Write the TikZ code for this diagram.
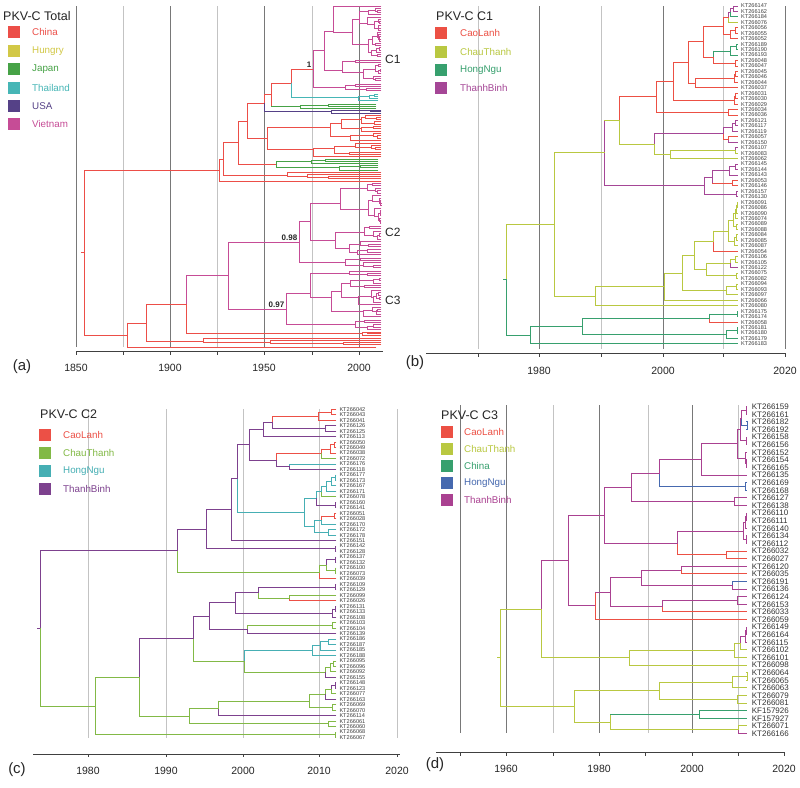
\documentclass[tikz,border=0pt]{standalone}
\usepackage{fontspec}
\setmainfont{Liberation Sans}
\definecolor{aR}{RGB}{236,78,72}
\definecolor{aY}{RGB}{210,200,70}
\definecolor{aG}{RGB}{70,162,70}
\definecolor{aC}{RGB}{70,182,182}
\definecolor{aU}{RGB}{85,65,135}
\definecolor{aV}{RGB}{198,76,150}
\definecolor{bR}{RGB}{236,80,68}
\definecolor{bY}{RGB}{185,200,65}
\definecolor{bG}{RGB}{55,160,110}
\definecolor{bP}{RGB}{165,70,150}
\definecolor{cR}{RGB}{236,80,70}
\definecolor{cG}{RGB}{130,185,70}
\definecolor{cC}{RGB}{70,175,180}
\definecolor{cP}{RGB}{125,65,142}
\definecolor{dR}{RGB}{236,80,68}
\definecolor{dY}{RGB}{185,200,65}
\definecolor{dT}{RGB}{55,160,110}
\definecolor{dB}{RGB}{70,105,175}
\definecolor{dP}{RGB}{170,65,145}
\definecolor{gD}{RGB}{120,120,120}
\definecolor{gL}{RGB}{195,195,195}
\tikzset{
 tr/.style={line width=0.85pt, line cap=rect},
 gd/.style={line width=0.9pt, gD},
 gl/.style={line width=0.9pt, gL},
 axisline/.style={line width=0.9pt, black!75},
 leaflab/.style={anchor=west, inner sep=0pt, font=\fontsize{5.6}{6}\selectfont, text=black!75},
 ttl/.style={anchor=west, inner sep=0pt, font=\fontsize{12.5}{14}\selectfont, text=black!85},
 lgt/.style={anchor=west, inner sep=0pt, font=\fontsize{9.8}{11}\selectfont},
 sq/.style={minimum size=12pt, inner sep=0pt, draw=none},
 axl/.style={inner sep=0pt, font=\fontsize{10.5}{12}\selectfont, text=black!85},
 pl/.style={inner sep=0pt, font=\fontsize{15}{17}\selectfont, text=black!85},
 suplab/.style={anchor=south east, inner sep=0.5pt, font=\bfseries\fontsize{8}{9}\selectfont, text=black!85},
 cladelab/.style={anchor=west, inner sep=0pt, font=\fontsize{12}{14}\selectfont, text=black!85}
}
% leaf: name, index, label
\newcommand\LF[3]{%
 \pgfmathsetmacro\tmpy{\Ybase+(#2-1)*\Ystep}%
 \coordinate (#1) at (\Xtip,\tmpy);%
 \expandafter\xdef\csname ty@#1\endcsname{\tmpy}%
 \node[leaflab] (#1lab) at (\Xlab,\tmpy) {#3};}
% internal node: name, x, child1, child2, v1, h1, v2, h2
\newcommand\NDg[8]{%
 \pgfmathsetmacro\tmpy{(\csname ty@#3\endcsname+\csname ty@#4\endcsname)/2}%
 \coordinate (#1) at (#2,\tmpy);%
 \expandafter\xdef\csname ty@#1\endcsname{\tmpy}%
 \draw[tr,#5] (#1) -- (#1 |- #3);%
 \draw[tr,#6] (#1 |- #3) -- (#3);%
 \draw[tr,#7] (#1) -- (#1 |- #4);%
 \draw[tr,#8] (#1 |- #4) -- (#4);}
\newcommand\ND[5]{\NDg{#1}{#2}{#3}{#4}{#5}{#5}{#5}{#5}}
% random subtree
\newcommand\rsub[4]{%
 \begingroup
 \edef\rX{#1}\edef\rA{#2}\edef\rN{#3}%
 \ifnum\rN=2 \def\rk{1}\else\pgfmathtruncatemacro\rk{random(1,\rN-1)}\fi
 \pgfmathtruncatemacro\rkk{\rN-\rk}%
 \pgfmathsetmacro\ryA{\rA+(\rk-1)*\Rgap/2}%
 \pgfmathsetmacro\rB{\rA+\rk*\Rgap}%
 \pgfmathsetmacro\ryB{\rB+(\rkk-1)*\Rgap/2}%
 \pgfmathsetmacro\rxA{\rX+(\Rend-\rX)*(0.2+0.6*rnd)}%
 \pgfmathsetmacro\rxB{\rX+(\Rend-\rX)*(0.2+0.6*rnd)}%
 \draw[tr,#4] (\rxA,\ryA) -| (\rX,\ryB) -- (\rxB,\ryB);%
 \ifnum\rk=1 \draw[tr,#4] (\rxA,\ryA) -- (\Rend,\ryA);\else\rsub{\rxA}{\rA}{\rk}{#4}\fi
 \ifnum\rkk=1 \draw[tr,#4] (\rxB,\ryB) -- (\Rend,\ryB);\else\rsub{\rxB}{\rB}{\rkk}{#4}\fi
 \endgroup}
% random clade: name, x, ytop, n, gap, color, xend
\newcommand\RC[7]{%
 \def\Rgap{#5}\def\Rend{#7}%
 \pgfmathsetmacro\tmpy{#3+(#4-1)*#5/2}%
 \coordinate (#1) at (#2,\tmpy);%
 \expandafter\xdef\csname ty@#1\endcsname{\tmpy}%
 \ifnum#4=1 \draw[tr,#6] (#1) -- (#7,\tmpy);\else\rsub{#2}{#3}{#4}{#6}\fi}
\begin{document}
\begin{tikzpicture}[x=1pt,y=-1pt]
\pgfmathsetseed{11}
\useasboundingbox (0,0) rectangle (800,787);
\fill[white] (0,0) rectangle (800,787);

%%%%%%%%%%%%%%%% PANEL A %%%%%%%%%%%%%%%%
\foreach \gx/\gs in {76/gd,123/gl,170/gd,217/gl,264/gd,312/gl,359/gd}{\draw[\gs] (\gx,6) -- (\gx,347);}
\draw[axisline] (76,351) -- (383,351);
\foreach \gx in {76,123,170,217,264,312,359}{\draw[axisline] (\gx,351) -- (\gx,355);}
\node[axl] (ax1850) at (76,368) {1850};
\node[axl] (ax1900) at (170,368) {1900};
\node[axl] (ax1950) at (264,368) {1950};
\node[axl] (ax2000) at (359,368) {2000};
\node[pl] (plA) at (22,367) {(a)};
\node[ttl] (ttlA) at (3,16) {PKV-C Total};
\foreach \i/\c/\t in {1/aR/China,2/aY/Hungry,3/aG/Japan,4/aC/Thailand,5/aU/USA,6/aV/Vietnam}{
 \node[sq,fill=\c] (aLg\i) at (13.5,{32.3+(\i-1)*18.4}) {};
 \node[lgt,text=\c] (aLt\i) at (32,{32.3+(\i-1)*18.4}) {\t};}

\RC{aCa1}{333}{6}{24}{2.2}{aV}{381}
\RC{aCa2}{342}{60}{10}{2.3}{aV}{381}
\ND{aCa}{324}{aCa1}{aCa2}{aV}
\RC{aCb}{345}{84}{4}{2.3}{aV}{381}
\ND{aC1}{313}{aCa}{aCb}{aV}
\RC{aTh}{358}{94}{4}{2.3}{aC}{378}
\NDg{aP2}{291}{aC1}{aTh}{aR}{aR}{aC}{aC}
\RC{aJp}{300}{104}{3}{2.2}{aG}{376}
\NDg{aP1}{271}{aP2}{aJp}{aR}{aR}{aR}{aG}
\RC{aUS}{331}{110}{3}{1.8}{aU}{381}
\NDg{aP0}{264}{aP1}{aUS}{aR}{aR}{aU}{aU}
\RC{aQa}{330}{115}{12}{2.3}{aR}{381}
\RC{aQb}{313}{143}{7}{2.3}{aR}{381}
\ND{aQ}{267}{aQa}{aQb}{aR}
\ND{aPm1}{247}{aP0}{aQ}{aR}
\RC{aRx}{276}{159}{6}{2.2}{aG}{378}
\ND{aPm2}{238}{aPm1}{aRx}{aR}
\RC{aS}{287}{172}{4}{2.2}{aR}{381}
\ND{aPm3}{223}{aPm2}{aS}{aR}
\RC{aT}{300}{181.5}{1}{2}{aR}{381}
\ND{aPm4}{219}{aPm3}{aT}{aR}

\RC{aCca}{340}{183}{17}{2.5}{aV}{381}
\RC{aCcb}{335}{226}{12}{2.6}{aV}{381}
\ND{aC2a}{310}{aCca}{aCcb}{aV}
\RC{aC2b}{345}{258}{5}{2.4}{aV}{381}
\ND{aC2}{299}{aC2a}{aC2b}{aV}
\RC{aC3a}{310}{271}{20}{2.4}{aV}{381}
\RC{aC3b}{355}{320}{5}{2.4}{aV}{381}
\ND{aC3}{286}{aC3a}{aC3b}{aV}
\ND{aL3}{228}{aC2}{aC3}{aV}
\RC{aLc}{362}{332}{3}{1.5}{aR}{381}
\NDg{aL2}{186}{aL3}{aLc}{aV}{aV}{aR}{aR}
\RC{aLb}{203}{338}{4}{2.2}{aR}{381}
\ND{aL1}{146}{aL2}{aLb}{aR}
\RC{aLr}{300}{347}{1}{2}{aR}{376}
\ND{aL0}{127}{aL1}{aLr}{aR}
\ND{aroot}{84}{aPm4}{aL0}{aR}
\draw[tr,aR] (aroot) -- ++(-2.5,0);
\node[suplab] (sA1) at ([xshift=-1pt,yshift=1pt]aC1) {1};
\node[suplab] (sA2) at ([xshift=-1pt,yshift=1pt]aC2) {0.98};
\node[suplab] (sA3) at ([xshift=-1pt,yshift=1pt]aC3) {0.97};
\node[cladelab] (cl1) at (385,59) {C1};
\node[cladelab] (cl2) at (385,232) {C2};
\node[cladelab] (cl3) at (385,300) {C3};

%%%%%%%%%%%%%%%% PANEL B %%%%%%%%%%%%%%%%
\foreach \gx/\gs in {478/gl,539/gd,601/gl,663/gd,723/gl,785/gd}{\draw[\gs] (\gx,6) -- (\gx,349);}
\draw[axisline] (426,353) -- (785,353);
\foreach \gx in {478,539,601,663,723,785}{\draw[axisline] (\gx,353) -- (\gx,357);}
\node[axl] (bx1980) at (539,371) {1980};
\node[axl] (bx2000) at (663,371) {2000};
\node[axl] (bx2020) at (785,371) {2020};
\node[pl] (plB) at (415,363) {(b)};
\node[ttl] (ttlB) at (436,16) {PKV-C C1};
\foreach \i/\c/\t in {1/bR/CaoLanh,2/bY/ChauThanh,3/bG/HongNgu,4/bP/ThanhBinh}{
 \node[sq,fill=\c] (bLg\i) at (441,{33.3+(\i-1)*18.3}) {};
 \node[lgt,text=\c] (bLt\i) at (460,{33.3+(\i-1)*18.3}) {\t};}
\def\Ybase{6}\def\Ystep{5.45}\def\Xtip{737.3}\def\Xlab{741}
\foreach \i/\t in {1/147,2/162,3/184,4/076,5/056,6/055,7/052,8/189,9/190,10/193,11/048,12/047,13/045,14/046,15/044,16/037,17/031,18/030,19/029,20/034,21/036,22/121,23/117,24/119,25/057,26/150,27/107,28/083,29/062,30/145,31/144,32/143,33/053,34/146,35/157,36/130,37/091,38/086,39/090,40/074,41/089,42/088,43/084,44/085,45/087,46/054,47/106,48/105,49/122,50/075,51/082,52/094,53/093,54/097,55/066,56/080,57/175,58/174,59/058,60/181,61/180,62/179,63/183}{\LF{b\i}{\i}{KT266\t}}
\ND{bn12}{733.3}{b1}{b2}{bP}
\NDg{bn123}{730}{bn12}{b3}{bP}{bP}{bG}{bG}
\NDg{bn1234}{728.3}{bn123}{b4}{bP}{bP}{bY}{bY}
\ND{bn56}{735}{b5}{b6}{bR}
\ND{bn567}{730}{bn56}{b7}{bR}
\ND{bn1t7}{723.3}{bn1234}{bn567}{bR}
\ND{bn89}{736}{b8}{b9}{bG}
\ND{bn8t10}{730}{bn89}{b10}{bG}
\ND{bn1112}{735}{b11}{b12}{bR}
\NDg{bn8t12}{713.3}{bn8t10}{bn1112}{bG}{bG}{bR}{bR}
\ND{bn1t12}{703.3}{bn1t7}{bn8t12}{bR}
\ND{bn1314}{735}{b13}{b14}{bR}
\ND{bn13t15}{734.3}{bn1314}{b15}{bR}
\ND{bn13t16}{695}{bn13t15}{b16}{bR}
\ND{bn1t16}{688.3}{bn1t12}{bn13t16}{bR}
\ND{bn1718}{735}{b17}{b18}{bR}
\ND{bn17t19}{734.3}{bn1718}{b19}{bR}
\ND{bn1t19}{673.3}{bn1t16}{bn17t19}{bR}
\ND{bn2021}{728.3}{b20}{b21}{bR}
\ND{bn1t21}{656.7}{bn1t19}{bn2021}{bR}
\ND{bn2223}{735}{b22}{b23}{bP}
\ND{bn22t24}{732}{bn2223}{b24}{bP}
\NDg{bn2526}{728.3}{b25}{b26}{bR}{bR}{bP}{bP}
\NDg{bn22t26}{723.3}{bn22t24}{bn2526}{bP}{bP}{bR}{bR}
\NDg{bn2728}{735}{b27}{b28}{bP}{bP}{bY}{bY}
\ND{bn27t29}{670.7}{bn2728}{b29}{bY}
\NDg{bn22t29}{654}{bn22t26}{bn27t29}{bP}{bP}{bY}{bY}
\NDg{bn1t29}{619.3}{bn1t21}{bn22t29}{bR}{bR}{bY}{bY}
\ND{bn3031}{735}{b30}{b31}{bP}
\ND{bn30t32}{729.3}{bn3031}{b32}{bP}
\ND{bn3334}{732.7}{b33}{b34}{bR}
\NDg{bn30t34}{712.3}{bn30t32}{bn3334}{bP}{bP}{bP}{bR}
\ND{bn3536}{736}{b35}{b36}{bP}
\ND{bn30t36}{704.3}{bn30t34}{bn3536}{bP}
\NDg{bn1t36}{604.3}{bn1t29}{bn30t36}{bP}{bY}{bP}{bP}
\ND{bn3738}{737}{b37}{b38}{bY}
\ND{bn37t39}{736}{bn3738}{b39}{bY}
\ND{bn37t40}{735}{bn37t39}{b40}{bY}
\ND{bn4142}{736.5}{b41}{b42}{bY}
\ND{bn37t42}{733.3}{bn37t40}{bn4142}{bY}
\ND{bn4344}{736.5}{b43}{b44}{bY}
\ND{bn43t45}{734.5}{bn4344}{b45}{bY}
\ND{bn37t45}{728.3}{bn37t42}{bn43t45}{bY}
\NDg{bn37t46}{713.3}{bn37t45}{b46}{bY}{bY}{bR}{bR}
\ND{bn4748}{735}{b47}{b48}{bY}
\NDg{bn47t49}{730}{bn4748}{b49}{bY}{bY}{bP}{bP}
\ND{bn5051}{736}{b50}{b51}{bY}
\ND{bn47t51}{706.7}{bn47t49}{bn5051}{bY}
\ND{bn37t51}{694.3}{bn37t46}{bn47t51}{bY}
\ND{bn5253}{736}{b52}{b53}{bY}
\ND{bn52t54}{726.7}{bn5253}{b54}{bY}
\ND{bn37t54}{682.7}{bn37t51}{bn52t54}{bY}
\ND{bn37t55}{664.3}{bn37t54}{b55}{bY}
\ND{bn37t56}{595}{bn37t55}{b56}{bY}
\ND{bn1t56}{554.3}{bn1t36}{bn37t56}{bY}
\ND{bn5758}{737}{b57}{b58}{bG}
\NDg{bn57t59}{709.3}{bn5758}{b59}{bG}{bG}{bR}{bR}
\ND{bn6061}{737}{b60}{b61}{bG}
\ND{bn60t62}{726.7}{bn6061}{b62}{bG}
\ND{bn57t62}{582.3}{bn57t59}{bn60t62}{bG}
\ND{bn57t63}{530}{bn57t62}{b63}{bG}
\NDg{bnroot}{506}{bn1t56}{bn57t63}{bY}{bY}{bG}{bG}
\draw[tr,bG] (bnroot) -- ++(-2.5,0);

%%%%%%%%%%%%%%%% PANEL C %%%%%%%%%%%%%%%%
\foreach \gx in {88,166,243,319,397}{\draw[gl] (\gx,409) -- (\gx,738);}
\draw[axisline] (33,754) -- (400,754);
\foreach \gx in {88,166,243,319,397}{\draw[axisline] (\gx,754) -- (\gx,757);}
\node[axl] (cx1980) at (88,771) {1980};
\node[axl] (cx1990) at (166,771) {1990};
\node[axl] (cx2000) at (243,771) {2000};
\node[axl] (cx2010) at (319,771) {2010};
\node[axl] (cx2020) at (397,771) {2020};
\node[pl] (plC) at (17,770) {(c)};
\node[ttl] (ttlC) at (40,414) {PKV-C C2};
\foreach \i/\c/\t in {1/cR/CaoLanh,2/cG/ChauThanh,3/cC/HongNgu,4/cP/ThanhBinh}{
 \node[sq,fill=\c] (cLg\i) at (44.5,{435.3+(\i-1)*18}) {};
 \node[lgt,text=\c] (cLt\i) at (63,{435.3+(\i-1)*18}) {\t};}
\def\Ybase{409.3}\def\Ystep{5.47}\def\Xtip{336}\def\Xlab{339.3}
\foreach \i/\t in {1/042,2/043,3/041,4/126,5/125,6/113,7/050,8/049,9/038,10/072,11/176,12/118,13/177,14/173,15/167,16/171,17/078,18/160,19/141,20/051,21/028,22/170,23/172,24/178,25/151,26/142,27/128,28/137,29/132,30/100,31/073,32/039,33/109,34/129,35/099,36/026,37/131,38/133,39/108,40/103,41/104,42/139,43/186,44/187,45/185,46/188,47/095,48/096,49/092,50/155,51/148,52/123,53/077,54/163,55/069,56/070,57/114,58/061,59/060,60/068,61/067}{\LF{c\i}{\i}{KT266\t}}
\ND{cn12}{331}{c1}{c2}{cR}
\ND{cn1t3}{318.3}{cn12}{c3}{cR}
\ND{cn45}{325}{c4}{c5}{cP}
\NDg{cn1t5}{272.7}{cn1t3}{cn45}{cR}{cR}{cP}{cP}
\ND{cn1t6}{263.3}{cn1t5}{c6}{cP}
\ND{cn78}{334.3}{c7}{c8}{cR}
\ND{cn7t9}{330}{cn78}{c9}{cR}
\NDg{cn7t10}{321}{cn7t9}{c10}{cR}{cR}{cG}{cG}
\NDg{cn1112}{289.3}{c11}{c12}{cC}{cC}{cP}{cP}
\NDg{cn7t12}{276}{cn7t10}{cn1112}{cR}{cR}{cP}{cP}
\ND{cn1t12}{249.3}{cn1t6}{cn7t12}{cP}
\ND{cn1314}{335}{c13}{c14}{cC}
\ND{cn13t15}{331}{cn1314}{c15}{cC}
\ND{cn13t16}{326}{cn13t15}{c16}{cC}
\NDg{cn13t17}{321.7}{cn13t16}{c17}{cC}{cC}{cG}{cG}
\ND{cn1819}{335}{c18}{c19}{cP}
\NDg{cn13t19}{316}{cn13t17}{cn1819}{cC}{cC}{cP}{cP}
\ND{cn2021}{334.3}{c20}{c21}{cR}
\NDg{cn20t22}{321.7}{cn2021}{c22}{cR}{cR}{cC}{cC}
\ND{cn2324}{328.3}{c23}{c24}{cC}
\ND{cn20t24}{314.3}{cn20t22}{cn2324}{cC}
\ND{cn13t24}{304.3}{cn13t19}{cn20t24}{cC}
\NDg{cn1t24}{237.7}{cn1t12}{cn13t24}{cP}{cP}{cC}{cC}
\ND{cn1t25}{231}{cn1t24}{c25}{cP}
\ND{cn2627}{335}{c26}{c27}{cP}
\ND{cn1t27}{206.7}{cn1t25}{cn2627}{cP}
\ND{cn2829}{335}{c28}{c29}{cP}
\ND{cn3031}{335}{c30}{c31}{cG}
\NDg{cn28t31}{326}{cn2829}{cn3031}{cP}{cP}{cG}{cG}
\NDg{cn28t32}{319.3}{cn28t31}{c32}{cG}{cG}{cR}{cR}
\NDg{cn1t32}{177.3}{cn1t27}{cn28t32}{cP}{cP}{cG}{cG}
\ND{cn3334}{335}{c33}{c34}{cP}
\NDg{cn3536}{289.3}{c35}{c36}{cG}{cG}{cR}{cR}
\NDg{cn33t36}{258.3}{cn3334}{cn3536}{cP}{cP}{cG}{cG}
\ND{cn3738}{335}{c37}{c38}{cP}
\ND{cn37t39}{332.7}{cn3738}{c39}{cP}
\ND{cn33t39}{235.7}{cn33t36}{cn37t39}{cP}
\ND{cn4041}{332.7}{c40}{c41}{cG}
\NDg{cn40t42}{247.7}{cn4041}{c42}{cG}{cG}{cP}{cP}
\ND{cn33t42}{209.3}{cn33t39}{cn40t42}{cP}
\ND{cn4344}{328.3}{c43}{c44}{cC}
\ND{cn43t45}{320.7}{cn4344}{c45}{cC}
\ND{cn43t46}{312.7}{cn43t45}{c46}{cC}
\ND{cn4748}{333.3}{c47}{c48}{cG}
\ND{cn47t49}{330}{cn4748}{c49}{cG}
\NDg{cn47t50}{325}{cn47t49}{c50}{cG}{cG}{cP}{cP}
\NDg{cn43t50}{244.3}{cn43t46}{cn47t50}{cC}{cC}{cG}{cG}
\NDg{cn33t50}{193.3}{cn33t42}{cn43t50}{cP}{cP}{cG}{cG}
\ND{cn5152}{335}{c51}{c52}{cP}
\NDg{cn51t53}{331}{cn5152}{c53}{cP}{cP}{cG}{cG}
\NDg{cn51t54}{325}{cn51t53}{c54}{cG}{cG}{cP}{cP}
\ND{cn5556}{332.7}{c55}{c56}{cG}
\ND{cn51t56}{309.3}{cn51t54}{cn5556}{cG}
\NDg{cn51t57}{218.3}{cn51t56}{c57}{cG}{cG}{cP}{cP}
\ND{cn5859}{328.3}{c58}{c59}{cG}
\ND{cn51t59}{189.3}{cn51t57}{cn5859}{cG}
\NDg{cn33t59}{139.3}{cn33t50}{cn51t59}{cP}{cP}{cG}{cG}
\ND{cn6061}{335}{c60}{c61}{cG}
\ND{cn33t61}{95}{cn33t59}{cn6061}{cG}
\NDg{cnroot}{40}{cn1t32}{cn33t61}{cP}{cP}{cG}{cG}
\draw[tr,cP] (cnroot) -- ++(-2.5,0);

%%%%%%%%%%%%%%%% PANEL D %%%%%%%%%%%%%%%%
\foreach \gx/\gs in {460/gd,506/gd,553/gl,599/gd,648/gl,692/gd,738/gl}{\draw[\gs] (\gx,405) -- (\gx,733);}
\draw[axisline] (436,752) -- (784,752);
\foreach \gx in {460,506,553,599,645,692,738,784}{\draw[axisline] (\gx,752) -- (\gx,756);}
\node[axl] (dx1960) at (506,769) {1960};
\node[axl] (dx1980) at (599,769) {1980};
\node[axl] (dx2000) at (692,769) {2000};
\node[axl] (dx2020) at (784,769) {2020};
\node[pl] (plD) at (435,765) {(d)};
\node[ttl] (ttlD) at (441,415) {PKV-C C3};
\foreach \i/\c/\t in {1/dR/CaoLanh,2/dY/ChauThanh,3/dT/China,4/dB/HongNgu,5/dP/ThanhBinh}{
 \node[sq,fill=\c] (dLg\i) at (446.5,{431.7+(\i-1)*17.1}) {};
 \node[lgt,text=\c] (dLt\i) at (464,{431.7+(\i-1)*17.1}) {\t};}
\tikzset{leaflab/.style={anchor=west, inner sep=0pt, font=\fontsize{8}{9}\selectfont, text=black!80}}
\def\Ybase{406.7}\def\Ystep{7.6}\def\Xtip{746.7}\def\Xlab{751.7}
\foreach \i/\t in {1/KT266159,2/KT266161,3/KT266182,4/KT266192,5/KT266158,6/KT266156,7/KT266152,8/KT266154,9/KT266165,10/KT266135,11/KT266169,12/KT266168,13/KT266127,14/KT266138,15/KT266110,16/KT266111,17/KT266140,18/KT266134,19/KT266112,20/KT266032,21/KT266027,22/KT266120,23/KT266035,24/KT266191,25/KT266136,26/KT266124,27/KT266153,28/KT266033,29/KT266059,30/KT266149,31/KT266164,32/KT266115,33/KT266102,34/KT266101,35/KT266098,36/KT266064,37/KT266065,38/KT266063,39/KT266079,40/KT266081,41/KF157926,42/KF157927,43/KT266071,44/KT266166}{\LF{d\i}{\i}{\t}}
\ND{dn12}{746}{d1}{d2}{dP}
\ND{dn34}{747.7}{d3}{d4}{dB}
\NDg{dn1t4}{741.7}{dn12}{dn34}{dP}{dP}{dB}{dB}
\ND{dn56}{746}{d5}{d6}{dP}
\ND{dn1t6}{740}{dn1t4}{dn56}{dP}
\ND{dn89}{746.5}{d8}{d9}{dP}
\ND{dn7t9}{745}{d7}{dn89}{dP}
\ND{dn1t9}{737.7}{dn1t6}{dn7t9}{dP}
\ND{dn1t10}{701}{dn1t9}{d10}{dP}
\ND{dn1112}{745}{d11}{d12}{dB}
\NDg{dn1t12}{659.3}{dn1t10}{dn1112}{dP}{dP}{dB}{dB}
\ND{dn1314}{734.3}{d13}{d14}{dP}
\ND{dn1t14}{631.7}{dn1t12}{dn1314}{dP}
\ND{dn1516}{746.5}{d15}{d16}{dP}
\ND{dn15t17}{745}{dn1516}{d17}{dP}
\ND{dn1819}{746}{d18}{d19}{dP}
\ND{dn15t19}{743.3}{dn15t17}{dn1819}{dP}
\ND{dn2021}{726}{d20}{d21}{dR}
\NDg{dn15t21}{677.3}{dn15t19}{dn2021}{dP}{dP}{dR}{dR}
\ND{dn1t21}{604.3}{dn1t14}{dn15t21}{dP}
\NDg{dn2223}{681}{d22}{d23}{dP}{dP}{dR}{dR}
\NDg{dn2425}{732.7}{d24}{d25}{dB}{dB}{dP}{dP}
\ND{dn22t25}{641}{dn2223}{dn2425}{dP}
\ND{dn2627}{737.7}{d26}{d27}{dP}
\NDg{dn26t28}{662.7}{dn2627}{d28}{dP}{dP}{dR}{dR}
\ND{dn22t28}{610}{dn22t25}{dn26t28}{dP}
\NDg{dn22t29}{595}{dn22t28}{d29}{dR}{dP}{dR}{dR}
\ND{dn1t29}{568.3}{dn1t21}{dn22t29}{dP}
\ND{dn3031}{746.5}{d30}{d31}{dP}
\ND{dn30t32}{745}{dn3031}{d32}{dP}
\NDg{dn30t33}{740.7}{dn30t32}{d33}{dP}{dP}{dY}{dY}
\ND{dn30t34}{734.3}{dn30t33}{d34}{dY}
\ND{dn30t35}{629.3}{dn30t34}{d35}{dY}
\NDg{dn1t35}{541.7}{dn1t29}{dn30t35}{dP}{dP}{dY}{dY}
\ND{dn3637}{747.7}{d36}{d37}{dY}
\ND{dn36t38}{732.3}{dn3637}{d38}{dY}
\ND{dn3940}{737.7}{d39}{d40}{dY}
\ND{dn36t40}{659.3}{dn36t38}{dn3940}{dY}
\ND{dn4142}{699.3}{d41}{d42}{dT}
\NDg{dn4344}{738.3}{d43}{d44}{dY}{dY}{dP}{dP}
\NDg{dn41t44}{610}{dn4142}{dn4344}{dY}{dT}{dY}{dY}
\ND{dn36t44}{574}{dn36t40}{dn41t44}{dY}
\ND{dnroot}{500}{dn1t35}{dn36t44}{dY}
\draw[tr,dY] (dnroot) -- ++(-2.5,0);
\end{tikzpicture}
\end{document}
